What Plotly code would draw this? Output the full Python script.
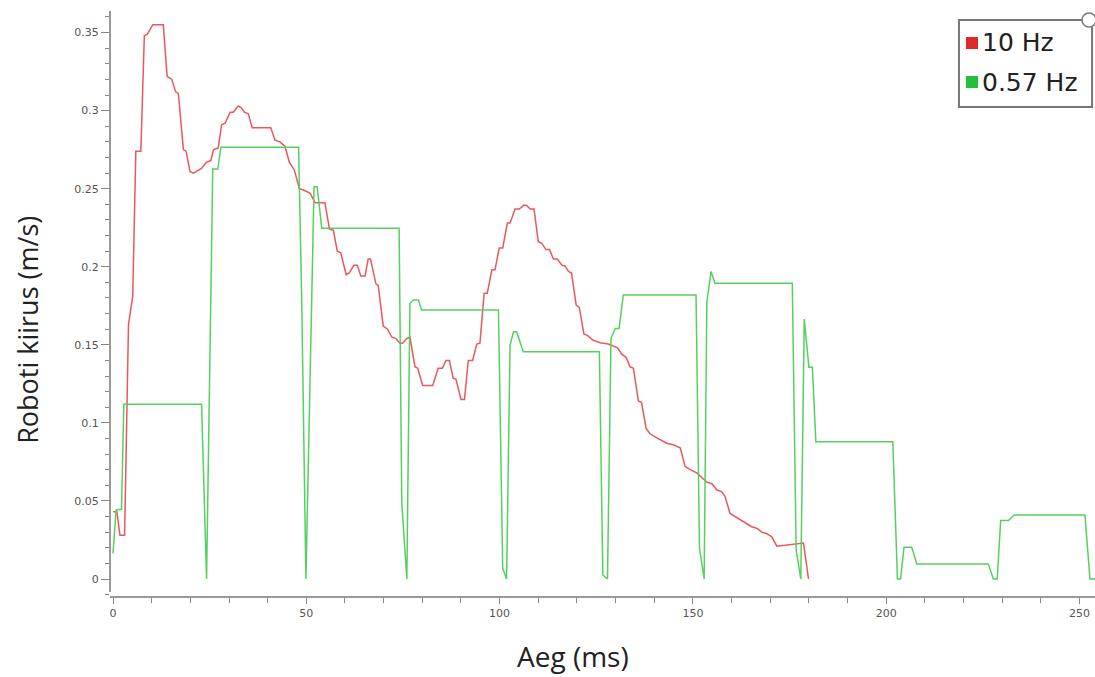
import plotly.graph_objects as go

# 10 Hz series (time ms, speed m/s)
red_x = [0, 1.0, 1.8, 3.0, 4.0, 5.1, 5.9, 7.2, 8.1, 8.9, 10.3, 13.0, 14.0, 15.2, 16.2, 16.9,
         18.2, 18.9, 19.9, 20.8, 22.9, 24.2, 25.3, 26.0, 27.2, 28.1, 29.0, 30.3, 31.1, 32.4,
         33.1, 34.0, 35.0, 36.0, 37.6, 40.8, 41.9, 43.2, 44.5, 45.6, 46.9, 48.2, 49.4, 51.0,
         52.3, 53.5, 54.8, 56.0, 57.0, 58.0, 58.9, 60.3, 61.1, 62.3, 63.2, 64.1, 65.2, 66.0,
         66.6, 68.0, 68.6, 69.9, 71.0, 72.1, 73.2, 74.2, 74.9, 76.0, 76.8, 78.1, 78.8, 80.1,
         82.7, 84.1, 85.2, 86.1, 87.0, 88.0, 88.7, 90.0, 90.9, 91.9, 93.0, 94.1, 94.9, 96.0,
         96.8, 98.0, 98.8, 99.9, 100.8, 102.0, 102.7, 104.0, 105.1, 106.3, 107.0, 107.9, 108.9,
         110.0, 110.9, 112.0, 112.9, 113.9, 114.9, 116.1, 116.9, 117.8, 118.6, 119.8, 120.6,
         121.8, 122.7, 124.1, 126.0, 128.1, 129.4, 130.5, 131.6, 132.7, 133.7, 134.6, 135.9,
         136.7, 137.9, 138.9, 140.2, 141.9, 143.2, 144.9, 146.7, 148.0, 149.3, 151.0, 152.3,
         153.6, 154.9, 156.2, 157.4, 158.3, 159.6, 160.9, 162.6, 163.9, 165.2, 166.5, 167.8,
         169.1, 170.4, 171.7, 176.0, 178.6, 179.9]
red_y = [0.043, 0.043, 0.028, 0.028, 0.163, 0.181, 0.274, 0.274, 0.348, 0.349, 0.355, 0.355,
         0.322, 0.320, 0.312, 0.311, 0.275, 0.274, 0.261, 0.260, 0.263, 0.267, 0.268, 0.275,
         0.276, 0.291, 0.292, 0.299, 0.299, 0.303, 0.302, 0.299, 0.298, 0.289, 0.289, 0.289,
         0.281, 0.280, 0.277, 0.267, 0.262, 0.250, 0.249, 0.247, 0.241, 0.241, 0.241, 0.224,
         0.2235, 0.210, 0.209, 0.195, 0.196, 0.201, 0.201, 0.194, 0.194, 0.205, 0.205, 0.189,
         0.188, 0.162, 0.160, 0.155, 0.154, 0.151, 0.151, 0.154, 0.155, 0.136, 0.135, 0.124,
         0.124, 0.135, 0.135, 0.140, 0.140, 0.1285, 0.128, 0.115, 0.115, 0.140, 0.140, 0.1505,
         0.151, 0.183, 0.183, 0.198, 0.198, 0.212, 0.212, 0.228, 0.228, 0.237, 0.237, 0.2395,
         0.2393, 0.237, 0.237, 0.216, 0.215, 0.211, 0.211, 0.205, 0.205, 0.201, 0.2005, 0.197,
         0.196, 0.1755, 0.174, 0.157, 0.156, 0.153, 0.1513, 0.1505, 0.149, 0.148, 0.144, 0.142,
         0.136, 0.135, 0.114, 0.113, 0.0965, 0.093, 0.091, 0.0886, 0.087, 0.086, 0.084, 0.072,
         0.070, 0.068, 0.065, 0.062, 0.061, 0.057, 0.056, 0.053, 0.042, 0.040, 0.037, 0.035,
         0.0335, 0.0325, 0.030, 0.029, 0.027, 0.021, 0.022, 0.023, 0.0]

# 0.57 Hz series
green_x = [0, 0.8, 2.2, 2.8, 22.9, 24.2, 25.8, 27.1, 27.9, 48.0, 48.8, 49.9, 52.0, 52.8, 54.0,
           74.0, 74.7, 76.0, 76.8, 77.7, 79.0, 79.8, 99.7, 100.8, 101.8, 102.7, 103.6, 104.4,
           106.1, 125.8, 126.7, 127.9, 128.8, 129.9, 130.9, 132.0, 150.8, 151.7, 152.9, 153.6,
           154.7, 155.7, 175.7, 176.7, 177.9, 178.8, 180.0, 180.9, 181.8, 201.7, 202.9, 203.7,
           204.6, 206.6, 207.9, 226.4, 227.7, 228.7, 229.6, 231.6, 233.1, 251.4, 252.7, 254.0]
green_y = [0.0164, 0.0442, 0.0446, 0.112, 0.112, 0.0, 0.2626, 0.2626, 0.2765, 0.2765, 0.18, 0.0,
           0.2513, 0.2513, 0.2246, 0.2246, 0.0485, 0.0, 0.1766, 0.1787, 0.1787, 0.1723, 0.1723,
           0.0068, 0.0, 0.1499, 0.1584, 0.1584, 0.1456, 0.1456, 0.0026, 0.0, 0.154, 0.1605,
           0.1605, 0.1819, 0.1819, 0.0197, 0.0, 0.1776, 0.197, 0.1894, 0.1894, 0.0186, 0.0,
           0.1665, 0.1356, 0.1356, 0.0879, 0.0879, 0.0, 0.0, 0.0203, 0.0203, 0.0096, 0.0096,
           0.0, 0.0, 0.0374, 0.0374, 0.041, 0.041, 0.0, 0.0]

series_names = ["10 Hz", "0.57 Hz"]
line_colors = ["#e8585c", "#55d060"]
legend_colors = ["#dd2a2a", "#22c03a"]
x_ticks = [0, 50, 100, 150, 200, 250]
y_ticks = [0, 0.05, 0.1, 0.15, 0.2, 0.25, 0.3, 0.35]
y_tick_text = ["0", "0.05", "0.1", "0.15", "0.2", "0.25", "0.3", "0.35"]

fig = go.Figure()
fig.add_trace(go.Scatter(x=red_x, y=red_y, mode="lines", name=series_names[0], showlegend=False,
                         line=dict(color=line_colors[0], width=1.5)))
fig.add_trace(go.Scatter(x=green_x, y=green_y, mode="lines", name=series_names[1], showlegend=False,
                         line=dict(color=line_colors[1], width=1.5)))

# Legend box (drawn manually to match compact layout)
leg_x0, leg_x1 = 0.8619, 0.9970
leg_y0, leg_y1 = 0.8359, 0.9846
item_y = [0.9453, 0.8786]
shapes = [
    dict(type="line", xref="paper", yref="paper", x0=0, x1=0, y0=0.0068, y1=1.0,
         line=dict(color="#999", width=2)),
    dict(type="rect", xref="paper", yref="paper", x0=leg_x0, x1=leg_x1, y0=leg_y0, y1=leg_y1,
         line=dict(color="#777", width=2), fillcolor="white", layer="above"),
    dict(type="circle", xref="paper", yref="paper", x0=0.9868, x1=1.001, y0=0.9726, y1=0.9966,
         line=dict(color="#777", width=1.5), fillcolor="white", layer="above"),
]
annotations = [
    dict(text="Roboti kiirus (m/s)", xref="paper", yref="paper", x=-0.0832, y=0.455,
         xanchor="center", yanchor="middle", textangle=-90, showarrow=False,
         font=dict(family="Open Sans", size=27, color="#222")),
    dict(text="Aeg (ms)", xref="paper", yref="paper", x=0.47, y=-0.1026,
         xanchor="center", yanchor="middle", showarrow=False,
         font=dict(family="Open Sans", size=28, color="#222")),
]
for i, nm in enumerate(series_names):
    shapes.append(dict(type="rect", xref="paper", yref="paper", x0=0.8690, x1=0.8812,
                       y0=item_y[i] - 0.0103, y1=item_y[i] + 0.0103,
                       line=dict(width=0), fillcolor=legend_colors[i], layer="above"))
    annotations.append(dict(text=nm, xref="paper", yref="paper", x=0.8832, y=item_y[i],
                            xanchor="left", yanchor="middle", showarrow=False,
                            font=dict(family="DejaVu Sans", size=25, color="#222")))

fig.update_layout(
    width=1095, height=677,
    margin=dict(l=110, r=0, t=11, b=81),
    paper_bgcolor="white", plot_bgcolor="white",
    font=dict(family="DejaVu Sans", color="#222"),
    showlegend=False,
    xaxis=dict(range=[-0.78, 254.0], showgrid=False, zeroline=False,
               showline=True, linecolor="#999", linewidth=2,
               tickvals=x_ticks, ticks="outside", ticklen=6, tickcolor="#888", tickwidth=1,
               tickfont=dict(family="DejaVu Sans", size=11, color="#555"),
               minor=dict(dtick=10, ticks="outside", ticklen=5, tickcolor="#888", tickwidth=1)),
    yaxis=dict(range=[-0.01089, 0.3638], showgrid=False, zeroline=False, showline=False,
               tickvals=y_ticks, ticktext=y_tick_text, ticks="outside", ticklen=8,
               tickcolor="#888", tickwidth=1,
               tickfont=dict(family="DejaVu Sans", size=11, color="#555"),
               minor=dict(dtick=0.01, ticks="outside", ticklen=4, tickcolor="#888", tickwidth=1)),
    shapes=shapes,
    annotations=annotations,
)

fig.write_html("out.html", config={"displayModeBar": False},
               post_script="document.body.style.margin='0px';")
